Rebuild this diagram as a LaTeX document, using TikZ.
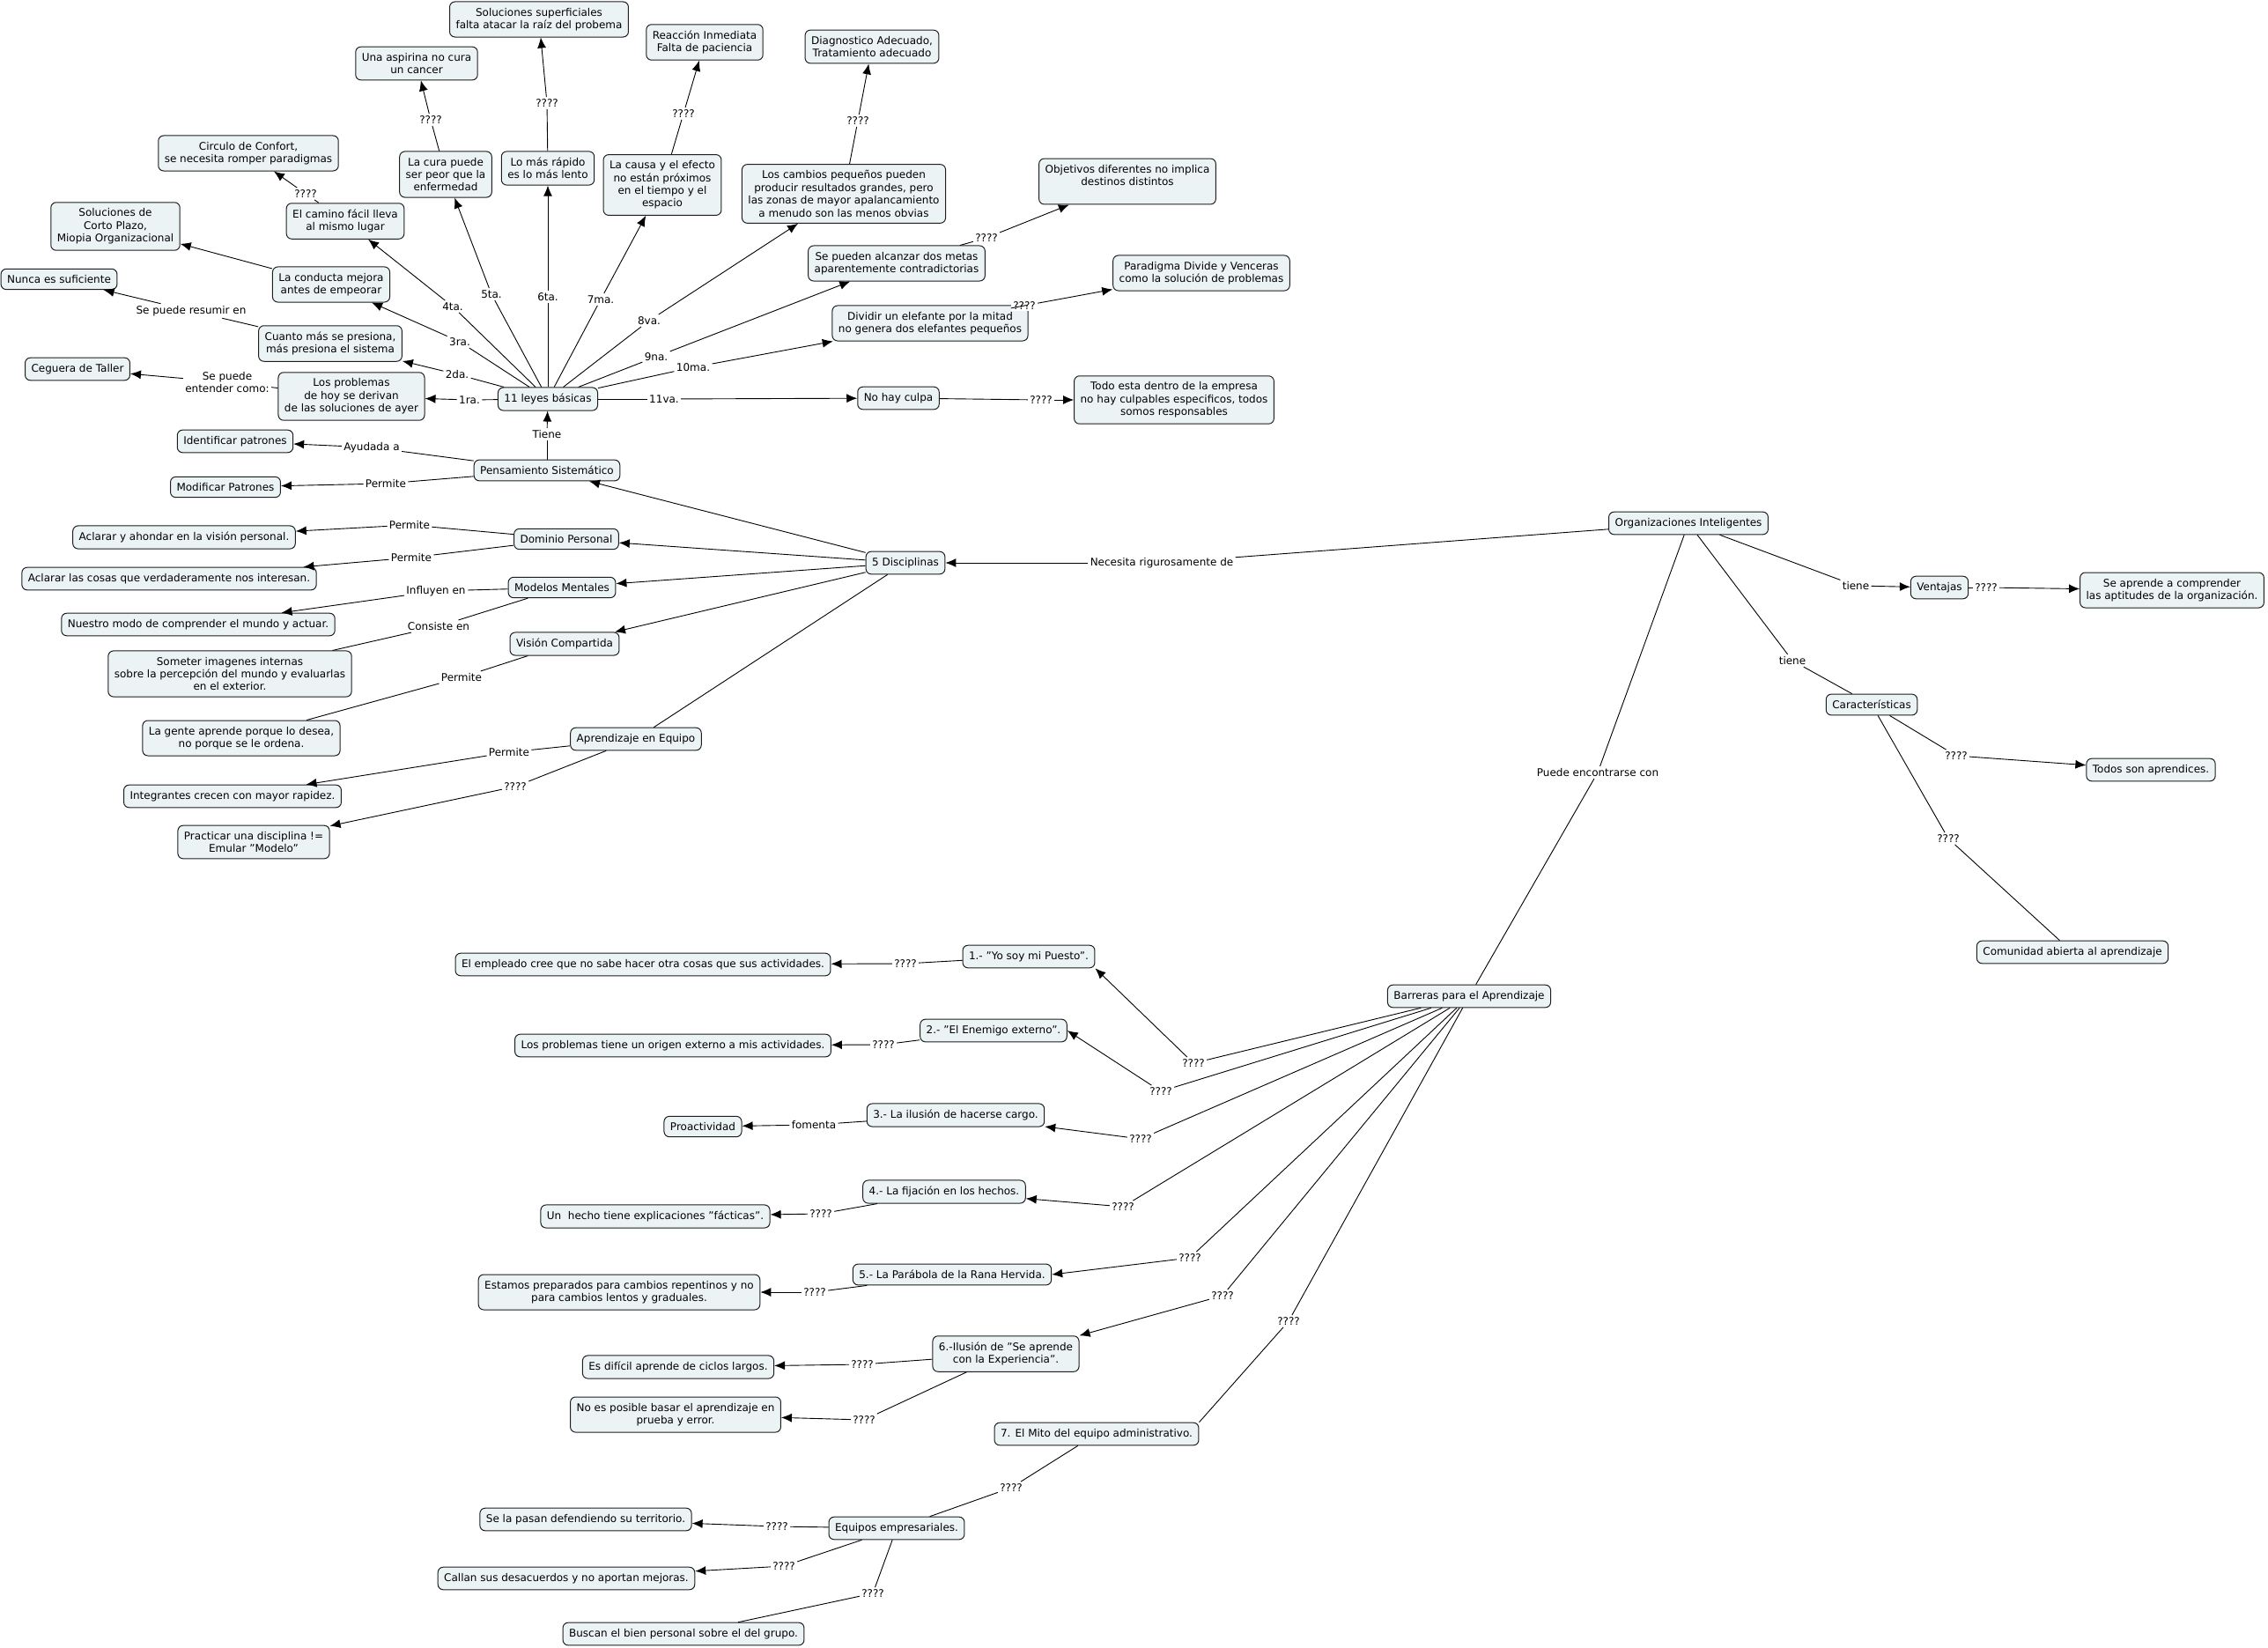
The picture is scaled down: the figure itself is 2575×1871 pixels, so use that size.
\documentclass[tikz,border=0pt]{standalone}
\usepackage{fontspec}
\setmainfont{DejaVu Sans}
\usetikzlibrary{arrows.meta}
\definecolor{cajafondo}{RGB}{236,243,245}
\definecolor{borde}{RGB}{30,30,30}

\begin{document}
\begin{tikzpicture}[x=1pt, y=-1pt, >={Latex[length=12pt,width=10pt]}, line width=0.9pt,
		every node/.style={font=\fontsize{12}{14.4}\selectfont},
		concepto/.style={draw=borde, line width=1pt, rounded corners=6pt, fill=cajafondo, align=center, inner xsep=7pt, inner ysep=7pt},
		enlace/.style={fill=white, inner sep=2pt, align=center}]
	\useasboundingbox (0,0) rectangle (2575,1871);

	% 11 leyes básicas y sus consecuencias
	\node[concepto] (leyes) at (622,453) {11 leyes básicas};
	\node[concepto] (prob) at (399,450) {Los problemas\\de hoy se derivan\\de las soluciones de ayer};
	\node[concepto] (ceguera) at (88,419) {Ceguera de Taller};
	\node[concepto] (presiona) at (375,390) {Cuanto más se presiona,\\más presiona el sistema};
	\node[concepto] (nunca) at (67,317) {Nunca es suficiente};
	\node[concepto] (conducta) at (376,323) {La conducta mejora\\antes de empeorar};
	\node[concepto] (corto) at (131,257) {Soluciones de\\Corto Plazo,\\Miopia Organizacional};
	\node[concepto] (camino) at (392,251) {El camino fácil lleva\\al mismo lugar};
	\node[concepto] (confort) at (282,174) {Circulo de Confort,\\se necesita romper paradigmas};
	\node[concepto] (cura) at (506,198) {La cura puede\\ser peor que la\\enfermedad};
	\node[concepto] (aspirina) at (473,72) {Una aspirina no cura\\un cancer};
	\node[concepto] (rapido) at (622,191) {Lo más rápido\\es lo más lento};
	\node[concepto] (superf) at (612,22) {Soluciones superficiales\\falta atacar la raíz del probema};
	\node[concepto] (causa) at (752,210) {La causa y el efecto\\no están próximos\\en el tiempo y el\\espacio};
	\node[concepto] (reaccion) at (800,48) {Reacción Inmediata\\Falta de paciencia};
	\node[concepto] (cambios) at (958,220) {Los cambios pequeños pueden\\producir resultados grandes, pero\\las zonas de mayor apalancamiento\\a menudo son las menos obvias};
	\node[concepto] (diagnos) at (990,53) {Diagnostico Adecuado,\\Tratamiento adecuado};
	\node[concepto] (metas) at (1018,299) {Se pueden alcanzar dos metas\\aparentemente contradictorias};
	\node[concepto] (objetivos) at (1280,206) {Objetivos diferentes no implica\\destinos distintos\\\mbox{}};
	\node[concepto] (elefante) at (1056,367) {Dividir un elefante por la mitad\\no genera dos elefantes pequeños};
	\node[concepto] (paradigma) at (1364,310) {Paradigma Divide y Venceras\\como la solución de problemas};
	\node[concepto] (culpa) at (1020,452) {No hay culpa};
	\node[concepto] (todo) at (1333,454) {Todo esta dentro de la empresa\\no hay culpables especificos, todos\\somos responsables};

	% 5 disciplinas
	\node[concepto] (pensam) at (621,534) {Pensamiento Sistemático};
	\node[concepto] (identif) at (267,501) {Identificar patrones};
	\node[concepto] (modif) at (256,553) {Modificar Patrones};
	\node[concepto] (dominio) at (643,612) {Dominio Personal};
	\node[concepto] (ahondar) at (209,610) {Aclarar y ahondar en la visión personal.};
	\node[concepto] (cosas) at (192,657) {Aclarar las cosas que verdaderamente nos interesan.};
	\node[concepto] (modelos) at (638,667) {Modelos Mentales};
	\node[concepto] (nuestro) at (225,709) {Nuestro modo de comprender el mundo y actuar.};
	\node[concepto] (someter) at (261,765) {Someter imagenes internas\\sobre la percepción del mundo y evaluarlas\\en el exterior.};
	\node[concepto] (vision) at (641,731) {Visión Compartida};
	\node[concepto] (gente) at (274,838) {La gente aprende porque lo desea,\\no porque se le ordena.};
	\node[concepto] (equipo) at (722,839) {Aprendizaje en Equipo};
	\node[concepto] (integr) at (264,904) {Integrantes crecen con mayor rapidez.};
	\node[concepto] (practicar) at (288,956) {Practicar una disciplina !=\\Emular "Modelo"};
	\node[concepto] (disc) at (1028,639) {5 Disciplinas};

	% organizaciones inteligentes
	\node[concepto] (org) at (1917,594) {Organizaciones Inteligentes};
	\node[concepto] (ventajas) at (2202,667) {Ventajas};
	\node[concepto] (aptitudes) at (2466,670) {Se aprende a comprender\\las aptitudes de la organización.};
	\node[concepto] (caract) at (2125,800) {Características};
	\node[concepto] (aprendices) at (2442,874) {Todos son aprendices.};
	\node[concepto] (comunidad) at (2353,1081) {Comunidad abierta al aprendizaje};

	% barreras
	\node[concepto] (barreras) at (1668,1131) {Barreras para el Aprendizaje};
	\node[concepto] (b1) at (1168,1086) {1.- "Yo soy mi Puesto".};
	\node[concepto] (e1) at (730,1095) {El empleado cree que no sabe hacer otra cosas que sus actividades.};
	\node[concepto] (b2) at (1128,1170) {2.- "El Enemigo externo".};
	\node[concepto] (e2) at (764,1187) {Los problemas tiene un origen externo a mis actividades.};
	\node[concepto] (b3) at (1085,1266) {3.- La ilusión de hacerse cargo.};
	\node[concepto] (proact) at (798,1279) {Proactividad};
	\node[concepto] (b4) at (1072,1353) {4.- La fijación en los hechos.};
	\node[concepto] (e4) at (744,1381) {Un\ \ hecho tiene explicaciones "fácticas".};
	\node[concepto] (b5) at (1081,1447) {5.- La Parábola de la Rana Hervida.};
	\node[concepto] (e5) at (703,1467) {Estamos preparados para cambios repentinos y no\\para cambios lentos y graduales.};
	\node[concepto] (b6) at (1142,1537) {6.-Ilusión de "Se aprende\\con la Experiencia".};
	\node[concepto] (e6a) at (770,1552) {Es difícil aprende de ciclos largos.};
	\node[concepto] (e6b) at (767,1606) {No es posible basar el aprendizaje en\\prueba y error.};
	\node[concepto] (b7) at (1245,1628) {7. El Mito del equipo administrativo.};
	\node[concepto] (equipos) at (1018,1735) {Equipos empresariales.};
	\node[concepto] (eq1) at (665,1725) {Se la pasan defendiendo su territorio.};
	\node[concepto] (eq2) at (643,1792) {Callan sus desacuerdos y no aportan mejoras.};
	\node[concepto] (eq3) at (776,1855) {Buscan el bien personal sobre el del grupo.};

	% frases de enlace
	\node[enlace] (l1ra) at (533,454) {1ra.};
	\node[enlace] (l2da) at (519,425) {2da.};
	\node[enlace] (l3ra) at (522,388) {3ra.};
	\node[enlace] (l4ta) at (514,348) {4ta.};
	\node[enlace] (l5ta) at (558,334) {5ta.};
	\node[enlace] (l6ta) at (622,337) {6ta.};
	\node[enlace] (l7ma) at (682,340) {7ma.};
	\node[enlace] (l8va) at (737,364) {8va.};
	\node[enlace] (l9na) at (745,405) {9na.};
	\node[enlace] (l10ma) at (787,417) {10ma.};
	\node[enlace] (l11va) at (754,453) {11va.};
	\node[enlace] (ltiene) at (621,493) {Tiene};
	\node[enlace] (lceg) at (258,434) {Se puede\\entender como:};
	\node[enlace] (lnunca) at (217,353) {Se puede resumir en};
	\node[enlace] (lconf) at (347,220) {????};
	\node[enlace] (lasp) at (489,136) {????};
	\node[enlace] (lsup) at (621,117) {????};
	\node[enlace] (lreac) at (776,129) {????};
	\node[enlace] (ldiag) at (974,137) {????};
	\node[enlace] (lobj) at (1120,270) {????};
	\node[enlace] (lpar) at (1163,347) {????};
	\node[enlace] (ltodo) at (1182,454) {????};
	\node[enlace] (layud) at (422,508) {Ayudada a};
	\node[enlace] (lmodif) at (438,549) {Permite};
	\node[enlace] (lahon) at (465,596) {Permite};
	\node[enlace] (lcosas) at (467,633) {Permite};
	\node[enlace] (linfl) at (495,671) {Influyen en};
	\node[enlace] (lcons) at (498,711) {Consiste en};
	\node[enlace] (lgente) at (524,769) {Permite};
	\node[enlace] (linteg) at (578,854) {Permite};
	\node[enlace] (lpract) at (585,893) {????};
	\node[enlace] (lnec) at (1319,639) {Necesita rigurosamente de};
	\node[enlace] (ltiene1) at (2107,665) {tiene};
	\node[enlace] (lapt) at (2255,667) {????};
	\node[enlace] (ltiene2) at (2035,750) {tiene};
	\node[enlace] (lapr) at (2221,858) {????};
	\node[enlace] (lcom) at (2212,952) {????};
	\node[enlace] (lpuede) at (1814,877) {Puede encontrarse con};
	\node[enlace] (lb1) at (1355,1207) {????};
	\node[enlace] (lb2) at (1318,1239) {????};
	\node[enlace] (lb3) at (1295,1293) {????};
	\node[enlace] (lb4) at (1275,1370) {????};
	\node[enlace] (lb5) at (1351,1428) {????};
	\node[enlace] (lb6) at (1388,1471) {????};
	\node[enlace] (lb7) at (1463,1500) {????};
	\node[enlace] (le1) at (1028,1094) {????};
	\node[enlace] (le2) at (1003,1186) {????};
	\node[enlace] (lfom) at (924,1277) {fomenta};
	\node[enlace] (le4) at (932,1378) {????};
	\node[enlace] (le5) at (925,1467) {????};
	\node[enlace] (le6a) at (979,1549) {????};
	\node[enlace] (le6b) at (981,1612) {????};
	\node[enlace] (lb7eq) at (1148,1689) {????};
	\node[enlace] (leq1) at (882,1733) {????};
	\node[enlace] (leq2) at (890,1778) {????};
	\node[enlace] (leq3) at (991,1809) {????};

	% conexiones de las leyes
	\draw (leyes) -- (l1ra); \draw[->] (l1ra) -- (prob);
	\draw (leyes) -- (l2da); \draw[->] (l2da) -- (presiona);
	\draw (leyes) -- (l3ra); \draw[->] (l3ra) -- (conducta);
	\draw (leyes) -- (l4ta); \draw[->] (l4ta) -- (camino);
	\draw (leyes) -- (l5ta); \draw[->] (l5ta) -- (cura);
	\draw (leyes) -- (l6ta); \draw[->] (l6ta) -- (rapido);
	\draw (leyes) -- (l7ma); \draw[->] (l7ma) -- (causa);
	\draw (leyes) -- (l8va); \draw[->] (l8va) -- (cambios);
	\draw (leyes) -- (l9na); \draw[->] (l9na) -- (metas);
	\draw (leyes) -- (l10ma); \draw[->] (l10ma) -- (elefante);
	\draw (leyes) -- (l11va); \draw[->] (l11va) -- (culpa);
	\draw (prob) -- (lceg); \draw[->] (lceg) -- (ceguera);
	\draw (presiona) -- (lnunca); \draw[->] (lnunca) -- (nunca);
	\draw[->] (conducta) -- (corto);
	\draw (camino) -- (lconf); \draw[->] (lconf) -- (confort);
	\draw (cura) -- (lasp); \draw[->] (lasp) -- (aspirina);
	\draw (rapido) -- (lsup); \draw[->] (lsup) -- (superf);
	\draw (causa) -- (lreac); \draw[->] (lreac) -- (reaccion);
	\draw (cambios) -- (ldiag); \draw[->] (ldiag) -- (diagnos);
	\draw (metas) -- (lobj); \draw[->] (lobj) -- (objetivos);
	\draw (elefante) -- (lpar); \draw[->] (lpar) -- (paradigma);
	\draw (culpa) -- (ltodo); \draw[->] (ltodo) -- (todo);

	% conexiones de las disciplinas
	\draw (pensam) -- (ltiene); \draw[->] (ltiene) -- (leyes);
	\draw (pensam) -- (layud); \draw[->] (layud) -- (identif);
	\draw (pensam) -- (lmodif); \draw[->] (lmodif) -- (modif);
	\draw[->] (disc) -- (pensam);
	\draw[->] (disc) -- (dominio);
	\draw[->] (disc) -- (modelos);
	\draw[->] (disc) -- (vision);
	\draw (disc) -- (equipo);
	\draw (dominio) -- (lahon); \draw[->] (lahon) -- (ahondar);
	\draw (dominio) -- (lcosas); \draw[->] (lcosas) -- (cosas);
	\draw (modelos) -- (linfl); \draw[->] (linfl) -- (nuestro);
	\draw (modelos) -- (lcons) -- (someter);
	\draw (vision) -- (lgente) -- (gente);
	\draw (equipo) -- (linteg); \draw[->] (linteg) -- (integr);
	\draw (equipo) -- (lpract); \draw[->] (lpract) -- (practicar);

	% conexiones de la organización
	\draw (org) -- (lnec); \draw[->] (lnec) -- (disc);
	\draw (org) -- (ltiene1); \draw[->] (ltiene1) -- (ventajas);
	\draw (ventajas) -- (lapt); \draw[->] (lapt) -- (aptitudes);
	\draw (org) -- (ltiene2) -- (caract);
	\draw (caract) -- (lapr); \draw[->] (lapr) -- (aprendices);
	\draw (caract) -- (lcom) -- (comunidad);
	\draw (org) -- (lpuede) -- (barreras);

	% conexiones de las barreras
	\draw (barreras) -- (lb1); \draw[->] (lb1) -- (b1.south east);
	\draw (barreras) -- (lb2); \draw[->] (lb2) -- (b2.east);
	\draw (barreras) -- (lb3); \draw[->] (lb3) -- (b3);
	\draw (barreras) -- (lb4); \draw[->] (lb4) -- (b4);
	\draw (barreras) -- (lb5); \draw[->] (lb5) -- (b5.east);
	\draw (barreras) -- (lb6); \draw[->] (lb6) -- (b6.north east);
	\draw (barreras) -- (lb7) -- (b7.north east);
	\draw (b1) -- (le1); \draw[->] (le1) -- (e1);
	\draw (b2) -- (le2); \draw[->] (le2) -- (e2);
	\draw (b3) -- (lfom); \draw[->] (lfom) -- (proact);
	\draw (b4) -- (le4); \draw[->] (le4) -- (e4);
	\draw (b5) -- (le5); \draw[->] (le5) -- (e5);
	\draw (b6) -- (le6a); \draw[->] (le6a) -- (e6a);
	\draw (b6) -- (le6b); \draw[->] (le6b) -- (e6b);
	\draw (b7) -- (lb7eq) -- (equipos);
	\draw (equipos) -- (leq1); \draw[->] (leq1) -- (eq1);
	\draw (equipos) -- (leq2); \draw[->] (leq2) -- (eq2);
	\draw (equipos) -- (leq3) -- (eq3);
\end{tikzpicture}
\end{document}
